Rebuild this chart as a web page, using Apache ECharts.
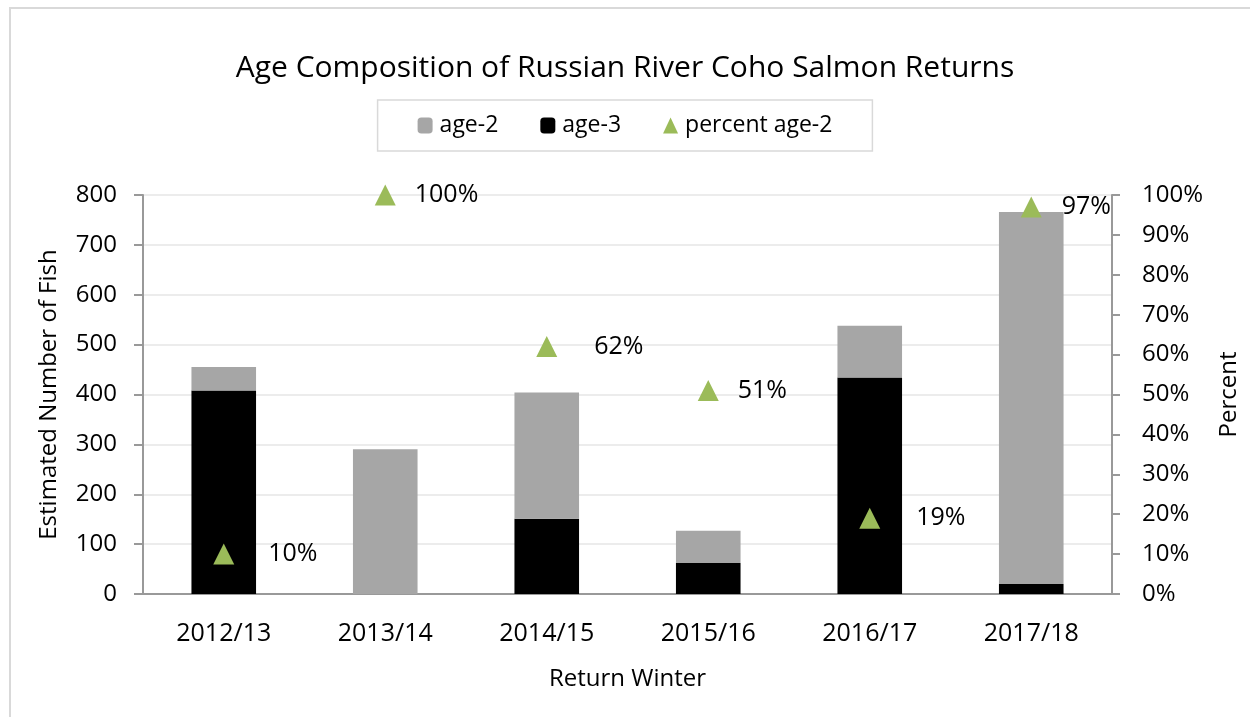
<!DOCTYPE html>
<html>
<head>
<meta charset="utf-8">
<title>Age Composition of Russian River Coho Salmon Returns</title>
<script src="https://cdn.jsdelivr.net/npm/echarts@6/dist/echarts.min.js"></script>
<style>
  html, body { margin: 0; padding: 0; background: #fff; }
  #chart { width: 1250px; height: 717px; }
</style>
</head>
<body>
<div id="chart"></div>
<script>
// values
var winters = ['2012/13', '2013/14', '2014/15', '2015/16', '2016/17', '2017/18']
var age2 = [47, 290, 253, 65, 104, 746]
var age3 = [408, 0, 151, 62, 434, 20]
var pctAge2 = [10, 100, 62, 51, 19, 97]
var countTicks = [0, 100, 200, 300, 400, 500, 600, 700, 800]
var pctTicks = [0, 10, 20, 30, 40, 50, 60, 70, 80, 90, 100]

// label spacing of the hand-placed Excel labels (px from the marker)
var labelGap = [34, 19, 37, 19, 36, 20]

var FONT = '"Open Sans", "Liberation Sans", sans-serif'
var green = '#9bbb59'

var chart = echarts.init(document.getElementById('chart'))

var pctData = pctAge2.map(function (v, i) {
    return {
        value: v,
        label: { distance: labelGap[i] }
    }
})

chart.setOption({
    animation: false,
    textStyle: { fontFamily: FONT, color: '#000' },
    graphic: [{
        type: 'rect',
        shape: { x: 10, y: 8, width: 1300, height: 800 },
        style: { fill: 'none', stroke: '#d9d9d9', lineWidth: 2 },
        silent: true
    }],
    title: {
        text: 'Age Composition of Russian River Coho Salmon Returns',
        left: 'center',
        top: 48,
        textStyle: { fontFamily: FONT, fontSize: 30, fontWeight: 'normal', color: '#000' }
    },
    legend: {
        data: ['age-2', 'age-3', 'percent age-2'],
        top: 100,
        left: 'center',
        padding: [14, 40, 14, 40],
        borderColor: '#d9d9d9',
        borderWidth: 1.5,
        itemGap: 42,
        itemWidth: 15,
        itemHeight: 16,
        textStyle: { fontFamily: FONT, fontSize: 23, color: '#000', padding: [0, 0, 0, 2] }
    },
    grid: { left: 143, right: 138, top: 195, bottom: 123 },
    xAxis: {
        type: 'category',
        data: winters,
        name: 'Return Winter',
        nameLocation: 'middle',
        nameGap: 73,
        nameTextStyle: { fontFamily: FONT, fontSize: 24, color: '#000' },
        axisLine: { lineStyle: { color: '#999', width: 2 } },
        axisTick: { length: 8, lineStyle: { color: '#999', width: 2 } },
        axisLabel: { margin: 27, fontSize: 25, color: '#000', fontFamily: FONT }
    },
    yAxis: [{
        type: 'value',
        min: countTicks[0],
        max: countTicks[countTicks.length - 1],
        interval: 100,
        name: 'Estimated Number of Fish',
        nameLocation: 'middle',
        nameGap: 82,
        nameTextStyle: { fontFamily: FONT, fontSize: 24, color: '#000' },
        axisLine: { show: true, lineStyle: { color: '#999', width: 2 } },
        axisTick: { show: true, length: 9, lineStyle: { color: '#999', width: 2 } },
        axisLabel: { margin: 26, fontSize: 24, color: '#000', fontFamily: FONT },
        splitLine: { lineStyle: { color: '#ececec', width: 2 } }
    }, {
        type: 'value',
        min: pctTicks[0],
        max: pctTicks[pctTicks.length - 1],
        interval: 10,
        name: 'Percent',
        nameLocation: 'middle',
        nameGap: 105,
        nameTextStyle: { fontFamily: FONT, fontSize: 24, color: '#000' },
        axisLine: { show: true, lineStyle: { color: '#999', width: 2 } },
        axisTick: { show: true, length: 8, lineStyle: { color: '#999', width: 2 } },
        axisLabel: { margin: 30, fontSize: 24, color: '#000', fontFamily: FONT, formatter: '{value}%' },
        splitLine: { show: false }
    }],
    series: [{
        name: 'age-3',
        type: 'bar',
        stack: 'fish',
        barWidth: '40%',
        data: age3,
        itemStyle: { color: '#000' }
    }, {
        name: 'age-2',
        type: 'bar',
        stack: 'fish',
        barWidth: '40%',
        data: age2,
        itemStyle: { color: '#a6a6a6' }
    }, {
        name: 'percent age-2',
        type: 'scatter',
        yAxisIndex: 1,
        symbol: 'triangle',
        symbolSize: [21, 21],
        z: 5,
        data: pctData,
        itemStyle: { color: green, opacity: 1 },
        label: {
            show: true,
            position: 'right',
            fontSize: 25,
            color: '#000',
            fontFamily: FONT,
            formatter: function (p) { return p.value + '%' }
        }
    }]
})
</script>
</body>
</html>
